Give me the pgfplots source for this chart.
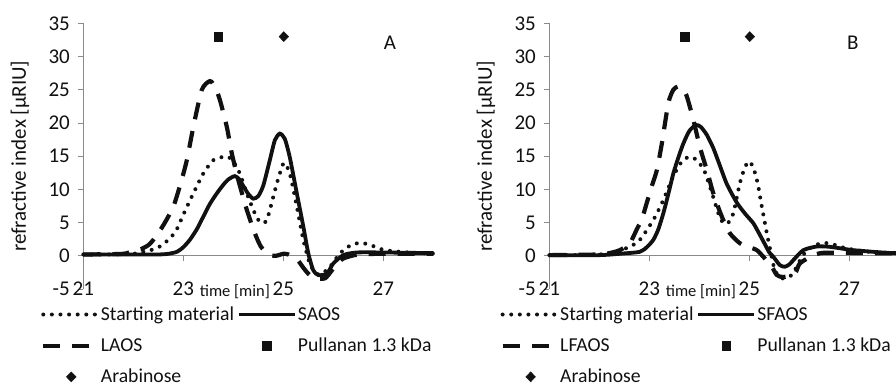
\documentclass[border=0pt]{standalone}
\usepackage{pgfplots}
\pgfplotsset{compat=1.18}
\usepackage{fontspec}
\setmainfont{Carlito}
\definecolor{axgray}{HTML}{8A8A8A}
\definecolor{ink}{HTML}{111111}
\pgfplotsset{
  panel/.style={
    scale only axis, width=350pt, height=265.67pt, anchor=south west,
    xmin=21, xmax=28, ymin=-5, ymax=35,
    axis x line=middle, axis y line=left,
    axis line style={-, draw=axgray, line width=0.9pt},
    xtick={21,23,25,27}, ytick={-5,0,5,10,15,20,25,30,35},
    hide obscured x ticks=false, hide obscured y ticks=false,
    tick align=outside, major tick length=5pt,
    major tick style={draw=axgray, line width=0.9pt},
    /pgf/number format/assume math mode=true,
    tick label style={font=\fontsize{21}{24}\selectfont, text=ink},
    xticklabel style={anchor=north, yshift=-18pt},
    yticklabel style={xshift=-5pt},
    clip=false,
    every axis x label/.style={at={(axis description cs:0.433,-0.01)}, anchor=center, font=\fontsize{16.5}{19}\selectfont, text=ink},
    every axis y label/.style={at={(axis description cs:-0.181,0.5)}, anchor=center, rotate=90, font=\fontsize{21}{24}\selectfont, text=ink},
    xlabel={time [min]},
    ylabel={refractive index [µRIU]},
    legend columns=2,
    legend cell align=left,
    legend style={draw=none, fill=none, anchor=north west,
      font=\fontsize{19.7}{23}\selectfont, text=ink, inner sep=0pt,
      row sep=13pt,
      nodes={inner sep=1.5pt},
      /tikz/every even column/.append style={column sep=1pt}},
  },
  sol/.style={ink, line width=3.8pt, smooth, tension=0.4,
    legend image code/.code={\draw[##1] (0pt,0pt) -- (56pt,0pt);}},
  dsh/.style={ink, line width=4.2pt, dash pattern=on 17pt off 12pt, smooth, tension=0.4,
    legend image code/.code={\draw[##1] (0pt,0pt) -- (54pt,0pt);}},
  dot/.style={ink, line width=4pt, line cap=round, dash pattern=on 0pt off 8.6pt, smooth, tension=0.4,
    legend image code/.code={\draw[##1] (0pt,0pt) -- (54pt,0pt);}},
  sq/.style={only marks, mark=square*, mark size=4.2pt, ink,
    legend image code/.code={\draw[##1] plot coordinates {(28pt,0pt)};}},
  dia/.style={only marks, mark=diamond*, mark size=5pt, ink, mark options={xscale=1.3},
    legend image code/.code={\draw[##1] plot coordinates {(28pt,0pt)};}},
}
\begin{document}
\begin{tikzpicture}
\useasboundingbox (0,0) rectangle (896pt,-389pt);
% ---------------- Panel A ----------------
\begin{axis}[panel, at={(83.33pt,-289pt)},
  legend style={at={(axis description cs:-0.121,-0.061)}}]
\addplot[dot] coordinates {
(21,0.2) (21.5,0.2) (22.0,0.3) (22.2,0.6) (22.35,0.85) (22.53,1.4) (22.73,2.6) (22.87,4.0) (23.0,6.2) (23.2,9.4) (23.4,12.4) (23.6,14.4) (23.8,14.9) (23.9,14.9) (24.0,14.2) (24.13,12.4) (24.27,9.4) (24.4,6.9) (24.5,5.4) (24.6,4.9) (24.67,5.4) (24.73,6.9) (24.87,10.9) (25.0,13.9) (25.07,13.5) (25.15,11.8) (25.27,7.4) (25.4,2.4) (25.53,-1.2) (25.65,-2.6) (25.75,-2.8) (25.93,-1.7) (26.13,0.35) (26.35,1.6) (26.55,1.95) (26.75,1.6) (27.0,0.9) (27.33,0.6) (27.7,0.4) (28,0.35)};
\addlegendentry{Starting material}
\addplot[sol] coordinates {
(21,0.2) (22.0,0.2) (22.5,0.2) (22.7,0.3) (22.87,0.6) (23.0,1.3) (23.13,2.4) (23.27,4.0) (23.4,5.9) (23.53,7.8) (23.67,9.4) (23.8,10.7) (23.9,11.5) (24.03,12.0) (24.12,11.5) (24.2,10.5) (24.3,9.3) (24.4,8.6) (24.5,9.0) (24.6,10.6) (24.73,14.4) (24.83,17.4) (24.93,18.4) (25.03,17.6) (25.13,14.8) (25.27,9.4) (25.4,4.4) (25.5,0.35) (25.6,-2.2) (25.7,-2.9) (25.87,-2.7) (26.0,-1.15) (26.2,0.1) (26.47,0.5) (27,0.5) (28,0.4)};
\addlegendentry{SAOS}
\addplot[dsh] coordinates {
(21,0.2) (21.8,0.3) (22.0,0.8) (22.15,1.0) (22.3,1.6) (22.4,2.4) (22.6,4.6) (22.8,7.4) (22.95,11.0) (23.07,14.4) (23.2,19.4) (23.37,25.0) (23.53,26.3) (23.63,25.5) (23.73,23.5) (23.87,19.4) (23.97,15.4) (24.1,11.4) (24.27,6.9) (24.43,3.4) (24.55,1.4) (24.7,0.2) (24.85,0.0) (25.0,0.3) (25.1,0.2) (25.27,-0.5) (25.4,-1.8) (25.5,-2.7) (25.63,-3.4) (25.83,-3.4) (25.95,-2.4) (26.05,-1.4) (26.2,-0.4) (26.5,0.2) (27,0.3) (28,0.3)};
\addlegendentry{LAOS}
\addplot[sq] coordinates {(23.7,33)};
\addlegendentry{Pullanan 1.3 kDa}
\addplot[dia] coordinates {(25.01,33)};
\addlegendentry{Arabinose}
\node[font=\fontsize{21}{24}\selectfont, text=ink] at (axis cs:27.13,32.1) {A};
\end{axis}
% ---------------- Panel B ----------------
\begin{axis}[panel, at={(549.33pt,-289pt)},
  legend style={at={(axis description cs:-0.14,-0.061)}}]
\addplot[dot] coordinates {
(21,0.1) (21.5,0.1) (22.0,0.2) (22.2,0.4) (22.41,0.85) (22.61,1.35) (22.81,2.4) (23.08,5.4) (23.28,8.4) (23.48,12.0) (23.65,14.2) (23.8,14.9) (23.95,14.4) (24.1,12.8) (24.25,9.5) (24.38,6.4) (24.48,4.9) (24.58,5.0) (24.68,6.4) (24.81,10.9) (24.92,13.5) (25.01,14.2) (25.1,12.8) (25.17,10.8) (25.25,7.4) (25.35,3.4) (25.42,0.85) (25.51,-2.15) (25.65,-3.4) (25.85,-2.9) (25.98,-1.15) (26.15,0.85) (26.41,1.85) (26.61,1.85) (26.95,1.1) (27.4,0.6) (28,0.4)};
\addlegendentry{Starting material}
\addplot[sol] coordinates {
(21,0.1) (22.0,0.1) (22.48,0.35) (22.81,0.6) (22.95,1.3) (23.08,2.4) (23.18,4.0) (23.28,6.4) (23.38,9.3) (23.48,12.4) (23.58,14.8) (23.68,16.9) (23.8,18.8) (23.93,19.7) (24.03,19.4) (24.15,18.2) (24.28,16.2) (24.41,13.6) (24.55,10.8) (24.75,8.0) (24.92,6.3) (25.08,4.9) (25.2,3.3) (25.3,1.9) (25.4,0.5) (25.48,-0.15) (25.61,-1.4) (25.71,-1.65) (25.8,-1.3) (25.88,-0.65) (26.08,0.85) (26.35,1.4) (26.61,1.35) (27.08,0.85) (27.75,0.45) (28,0.4)};
\addlegendentry{SFAOS}
\addplot[dsh] coordinates {
(21,0.1) (22.0,0.2) (22.2,0.4) (22.41,0.85) (22.61,1.9) (22.75,4.0) (22.85,5.5) (22.95,8.0) (23.05,10.5) (23.15,12.9) (23.25,16.9) (23.38,23.0) (23.48,25.0) (23.58,25.5) (23.68,25.0) (23.75,24.0) (23.88,20.5) (24.01,16.4) (24.15,12.9) (24.28,9.4) (24.45,5.9) (24.61,3.4) (24.81,1.9) (25.0,1.3) (25.15,0.85) (25.28,-0.15) (25.45,-1.65) (25.55,-2.9) (25.68,-3.2) (25.91,-2.7) (26.01,-1.15) (26.28,0.1) (26.48,0.45) (26.81,0.45) (27.5,0.4) (28,0.35)};
\addlegendentry{LFAOS}
\addplot[sq] coordinates {(23.71,33)};
\addlegendentry{Pullanan 1.3 kDa}
\addplot[dia] coordinates {(25.01,33)};
\addlegendentry{Arabinose}
\node[font=\fontsize{21}{24}\selectfont, text=ink] at (axis cs:27.07,32.1) {B};
\end{axis}
\end{tikzpicture}
\end{document}
